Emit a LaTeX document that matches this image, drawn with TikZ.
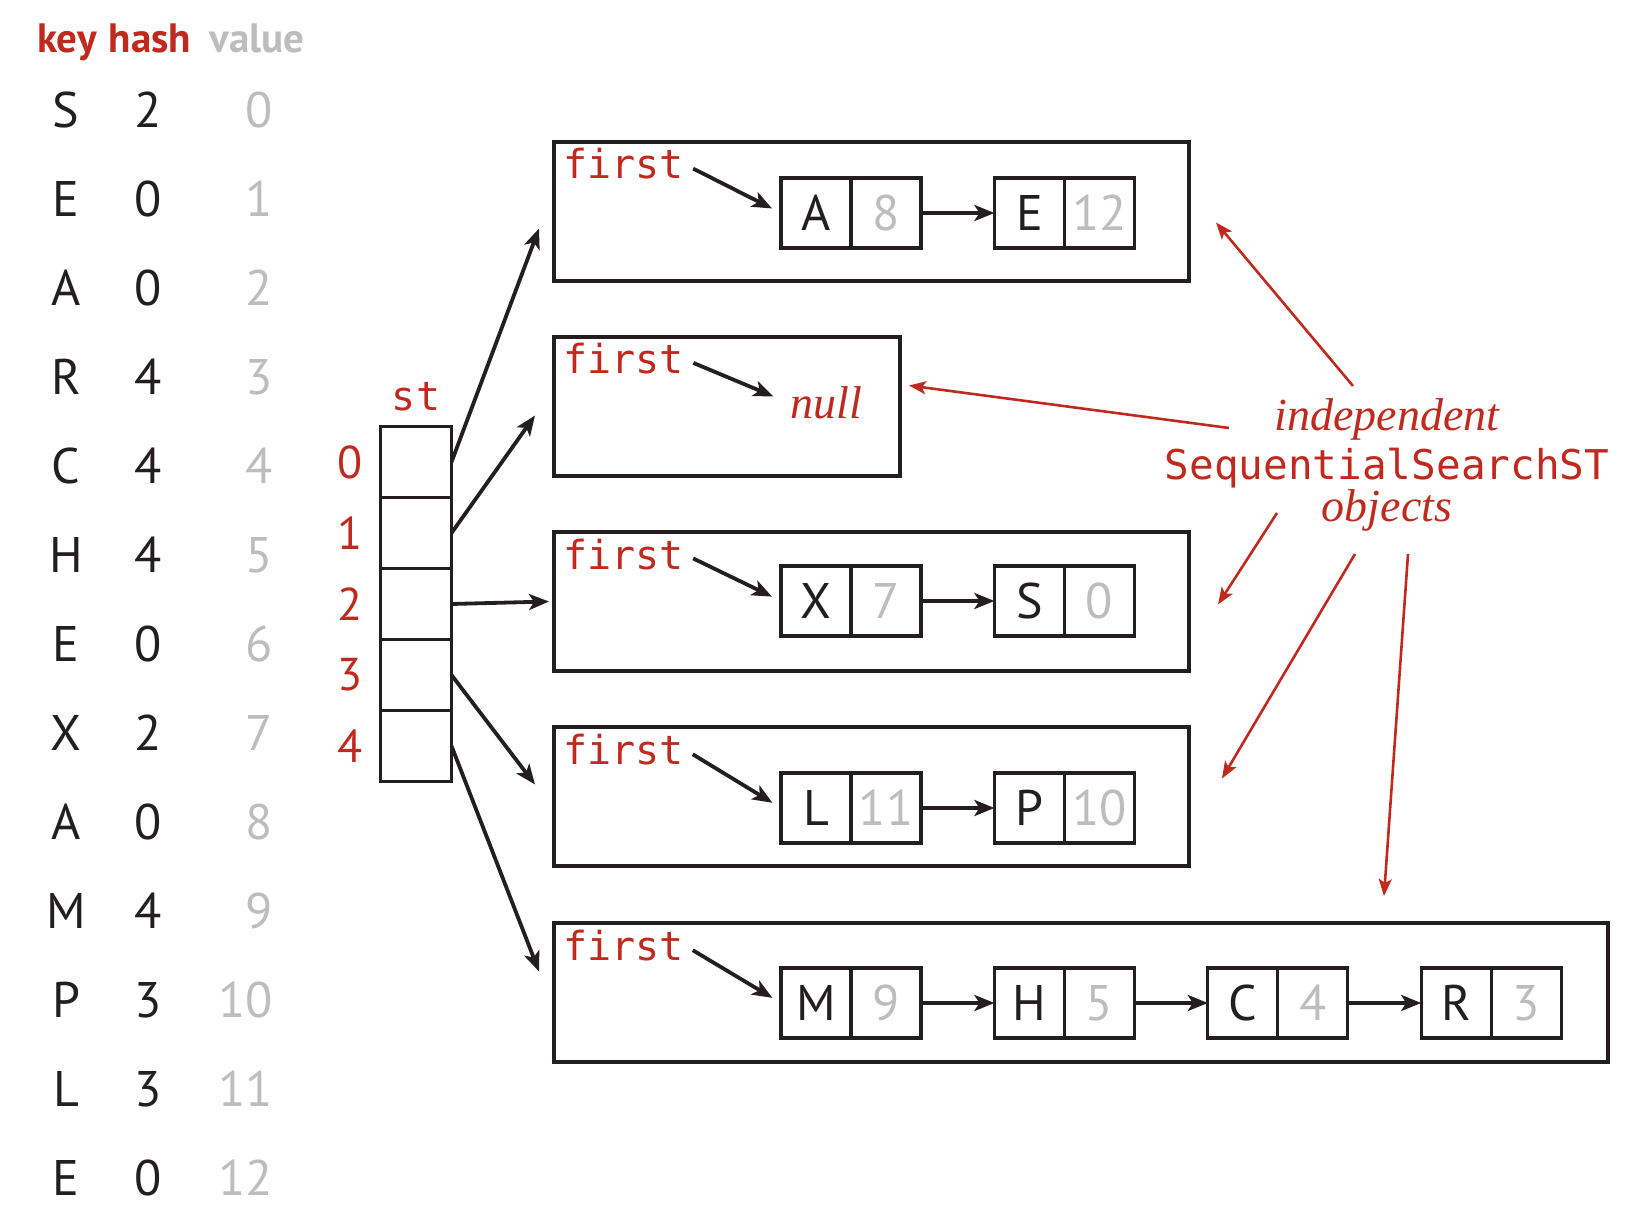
\documentclass[tikz,border=0pt]{standalone}
\usepackage{fontspec}
\usepackage{xcolor}
\usepackage{tikz}
\usetikzlibrary{arrows.meta, positioning, calc}
\newfontfamily\labelfont{PT Sans}
\newfontfamily\codefont{DejaVu Sans Mono}
\newfontfamily\notefont{Liberation Serif}
\definecolor{bookred}{HTML}{C0291E}
\definecolor{valgray}{HTML}{BDBDBD}
\definecolor{inkblack}{HTML}{231F20}
\tikzset{
    tabentry/.style={
        font=\labelfont\fontsize{25}{30}\selectfont,
        inner sep=0pt,
        anchor=base,
        text=inkblack
    },
    valentry/.style={tabentry, text=valgray, anchor=base east},
    header/.style={font=\labelfont\bfseries\fontsize{20.5}{24}\selectfont, inner sep=0pt, anchor=base},
    stcell/.style={draw=inkblack, line width=1.6pt, minimum width=35.5pt, minimum height=35.5pt, inner sep=0pt, outer sep=0pt},
    stindex/.style={font=\labelfont\fontsize{23}{28}\selectfont, text=bookred, inner sep=0pt},
    stobject/.style={draw=inkblack, line width=1.6pt, anchor=north west, inner sep=0pt, outer sep=0pt, minimum height=69.5pt},
    codelabel/.style={font=\codefont\fontsize{20}{24}\selectfont, text=bookred, inner sep=0pt},
    firstlabel/.style={codelabel, anchor=base west},
    keycell/.style={
        draw=inkblack,
        line width=1.6pt,
        minimum width=35pt,
        minimum height=35pt,
        inner sep=0pt,
        outer sep=0pt,
        font=\labelfont\fontsize{25}{30}\selectfont,
        text=inkblack
    },
    valcell/.style={keycell, text=valgray},
    notetext/.style={font=\notefont\itshape\fontsize{23}{27}\selectfont, text=bookred, inner sep=0pt, anchor=base},
    link/.style={-{Stealth[length=10pt, width=8pt, inset=2.5pt]}, line width=1.9pt, draw=inkblack},
    note/.style={-{Stealth[length=8.5pt, width=6.5pt, inset=2pt]}, line width=1.3pt, draw=bookred}
}
\begin{document}
\begin{tikzpicture}[x=0.5pt, y=-0.5pt]
    \useasboundingbox (0,0) rectangle (1644,1208);

    % input table
    \node[header, text=bookred] (hkey) at (67,53) {key};
    \node[header, text=bookred] (hhash) at (150,53) {hash};
    \node[header, text=valgray] (hval) at (257,53) {value};

    \node[tabentry] (key0) at (66,128) {S};
    \node[tabentry] (hash0) at (148,128) {2};
    \node[valentry] (val0) at (273,128) {0};
    \node[tabentry] (key1) at (66,217) {E};
    \node[tabentry] (hash1) at (148,217) {0};
    \node[valentry] (val1) at (273,217) {1};
    \node[tabentry] (key2) at (66,306) {A};
    \node[tabentry] (hash2) at (148,306) {0};
    \node[valentry] (val2) at (273,306) {2};
    \node[tabentry] (key3) at (66,395) {R};
    \node[tabentry] (hash3) at (148,395) {4};
    \node[valentry] (val3) at (273,395) {3};
    \node[tabentry] (key4) at (66,484) {C};
    \node[tabentry] (hash4) at (148,484) {4};
    \node[valentry] (val4) at (273,484) {4};
    \node[tabentry] (key5) at (66,572) {H};
    \node[tabentry] (hash5) at (148,572) {4};
    \node[valentry] (val5) at (273,572) {5};
    \node[tabentry] (key6) at (66,661) {E};
    \node[tabentry] (hash6) at (148,661) {0};
    \node[valentry] (val6) at (273,661) {6};
    \node[tabentry] (key7) at (66,750) {X};
    \node[tabentry] (hash7) at (148,750) {2};
    \node[valentry] (val7) at (273,750) {7};
    \node[tabentry] (key8) at (66,839) {A};
    \node[tabentry] (hash8) at (148,839) {0};
    \node[valentry] (val8) at (273,839) {8};
    \node[tabentry] (key9) at (66,928) {M};
    \node[tabentry] (hash9) at (148,928) {4};
    \node[valentry] (val9) at (273,928) {9};
    \node[tabentry] (key10) at (66,1017) {P};
    \node[tabentry] (hash10) at (148,1017) {3};
    \node[valentry] (val10) at (273,1017) {10};
    \node[tabentry] (key11) at (66,1106) {L};
    \node[tabentry] (hash11) at (148,1106) {3};
    \node[valentry] (val11) at (273,1106) {11};
    \node[tabentry] (key12) at (66,1195) {E};
    \node[tabentry] (hash12) at (148,1195) {0};
    \node[valentry] (val12) at (273,1195) {12};

    % array st[]
    \node[stcell] (cell0) at (416,462) {};
    \node[stcell, below=0pt of cell0] (cell1) {};
    \node[stcell, below=0pt of cell1] (cell2) {};
    \node[stcell, below=0pt of cell2] (cell3) {};
    \node[stcell, below=0pt of cell3] (cell4) {};
    \node[codelabel, anchor=south, above=7.5pt of cell0] (stname) {st};
    \node[stindex, left=9pt of cell0] (idx0) {0};
    \node[stindex, left=9pt of cell1] (idx1) {1};
    \node[stindex, left=9pt of cell2] (idx2) {2};
    \node[stindex, left=9pt of cell3] (idx3) {3};
    \node[stindex, left=9pt of cell4] (idx4) {4};

    % SequentialSearchST objects
    \node[stobject, minimum width=317.5pt] (obj0) at (554,142) {};
    \node[stobject, minimum width=173pt] (obj1) at (554,337) {};
    \node[stobject, minimum width=317.5pt] (obj2) at (554,532) {};
    \node[stobject, minimum width=317.5pt] (obj3) at (554,727) {};
    \node[stobject, minimum width=527pt] (obj4) at (554,923) {};

    \node[firstlabel] (first0) at (563,179) {first};
    \node[firstlabel] (first1) at (563,374) {first};
    \node[firstlabel] (first2) at (563,569) {first};
    \node[firstlabel] (first3) at (563,764) {first};
    \node[firstlabel] (first4) at (563,960) {first};

    \node[notetext, anchor=base west] (null1) at (790,419) {null};

    \node[keycell] (kA) at (816,213) {A};
    \node[valcell, right=0pt of kA] (vA) {8};
    \node[keycell, right=36.7pt of vA] (kE) {E};
    \node[valcell, right=0pt of kE] (vE) {12};

    \node[keycell] (kX) at (816,601) {X};
    \node[valcell, right=0pt of kX] (vX) {7};
    \node[keycell, right=36.7pt of vX] (kS) {S};
    \node[valcell, right=0pt of kS] (vS) {0};

    \node[keycell] (kL) at (816,808) {L};
    \node[valcell, right=0pt of kL] (vL) {11};
    \node[keycell, right=36.7pt of vL] (kP) {P};
    \node[valcell, right=0pt of kP] (vP) {10};

    \node[keycell] (kM) at (816,1003) {M};
    \node[valcell, right=0pt of kM] (vM) {9};
    \node[keycell, right=36.7pt of vM] (kH) {H};
    \node[valcell, right=0pt of kH] (vH) {5};
    \node[keycell, right=36.7pt of vH] (kC) {C};
    \node[valcell, right=0pt of kC] (vC) {4};
    \node[keycell, right=36.7pt of vC] (kR) {R};
    \node[valcell, right=0pt of kR] (vR) {3};

    \draw[link] (cell0.east) -- ($(obj0.west)+(-15,17)$);
    \draw[link] (cell1.east) -- ($(obj1.west)+(-19,9)$);
    \draw[link] (cell2.east) -- ($(obj2.west)+(-5,0)$);
    \draw[link] (cell3.east) -- ($(obj3.west)+(-19,-12)$);
    \draw[link] (cell4.east) -- ($(obj4.west)+(-15,-21)$);

    \draw[link, shorten <=5pt, shorten >=5pt] (first0.east) -- (kA.west);
    \draw[link, shorten <=5pt, shorten >=9pt] (first1.east) -- (null1.west);
    \draw[link, shorten <=5pt, shorten >=5pt] (first2.east) -- (kX.west);
    \draw[link, shorten <=5pt, shorten >=5pt] (first3.east) -- (kL.west);
    \draw[link, shorten <=5pt, shorten >=5pt] (first4.east) -- (kM.west);

    \draw[link] (vA) -- (kE);
    \draw[link] (vX) -- (kS);
    \draw[link] (vL) -- (kP);
    \draw[link] (vM) -- (kH);
    \draw[link] (vH) -- (kC);
    \draw[link] (vC) -- (kR);

    % annotation
    \node[notetext] (indep) at (1387,431) {independent};
    \node[codelabel, font=\codefont\fontsize{20.5}{24}\selectfont, anchor=base] (ssst) at (1387,480) {SequentialSearchST};
    \node[notetext] (objs) at (1387,522) {objects};

    \coordinate (from0) at (1353,386);
    \coordinate (from1) at (1229,428);
    \coordinate (from2) at (1277,513);
    \coordinate (from3) at (1355,554);
    \coordinate (from4) at (1408,554);
    \draw[note] (from0) -- ($(obj0.east)+(27,11)$);
    \draw[note] (from1) -- ($(obj1.east)+(9,-21)$);
    \draw[note] (from2) -- ($(obj2.east)+(29,3)$);
    \draw[note] (from3) -- ($(obj3.east)+(33,-18)$);
    \draw[note] (from4) -- ($(obj4.north east)+(-224,-27)$);
\end{tikzpicture}
\end{document}
